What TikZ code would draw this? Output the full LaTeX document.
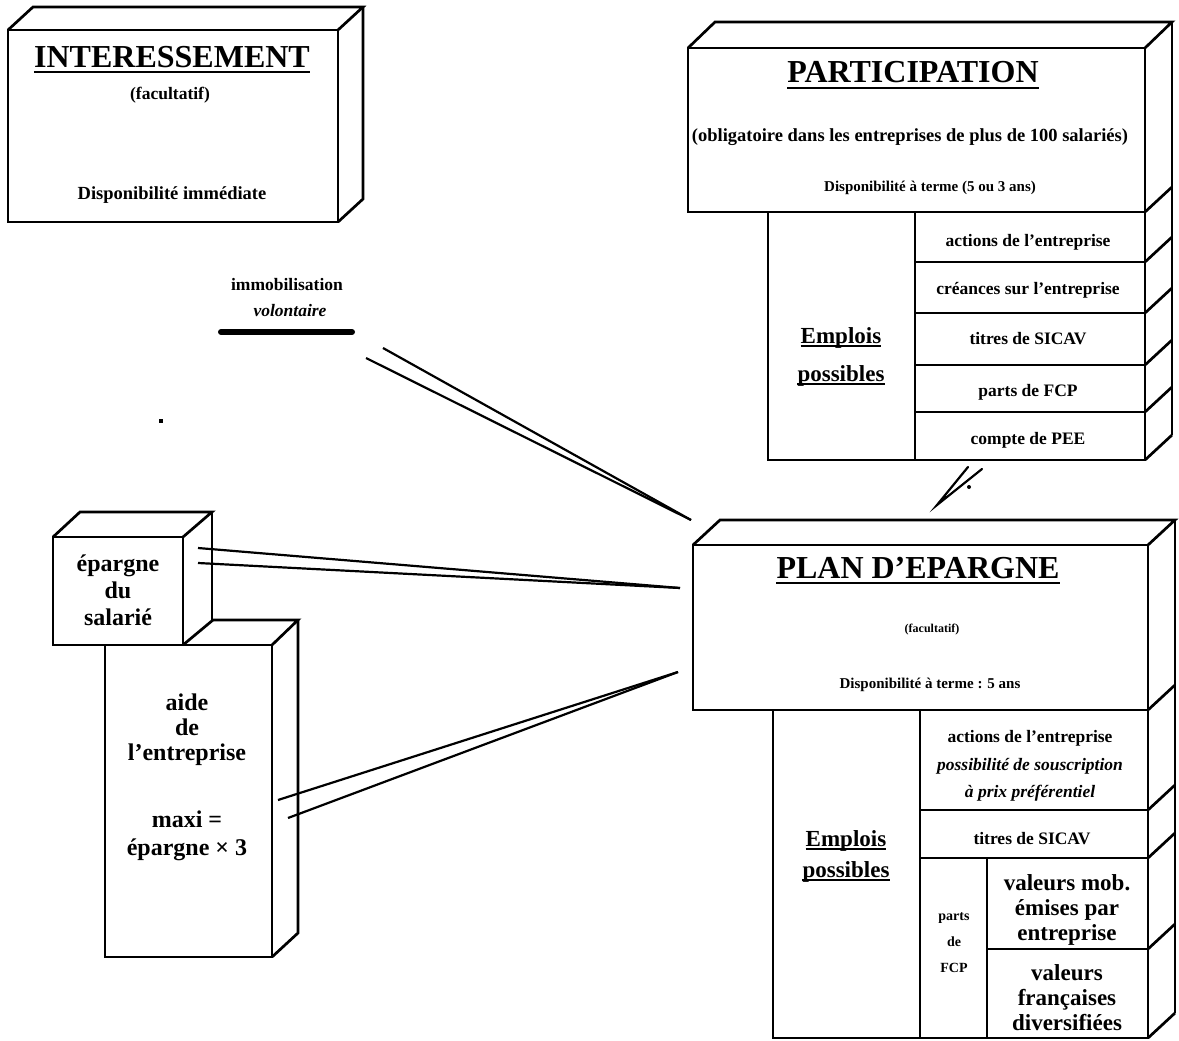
\documentclass[tikz,border=0pt]{standalone}
\usepackage{fontspec}
\setmainfont{Liberation Serif}
\begin{document}
\begin{tikzpicture}[x=1pt,y=-1pt,
  edge/.style={line width=2.7pt,line join=miter},
  conn/.style={line width=2.2pt},
  ulin/.style={line width=2.4pt},
  ttl/.style={font=\fontsize{32}{36}\selectfont\bfseries,inner sep=0pt},
  sm/.style={font=\fontsize{17.5}{20}\selectfont\bfseries,inner sep=0pt,align=center},
  smi/.style={font=\fontsize{17.5}{20}\selectfont\bfseries\itshape,inner sep=0pt,align=center},
  tiny/.style={font=\fontsize{12}{15}\selectfont\bfseries,inner sep=0pt,align=center},
  big/.style={font=\fontsize{23}{26}\selectfont\bfseries,inner sep=0pt,align=center},
  emp/.style={font=\fontsize{23}{26}\selectfont\bfseries,inner sep=0pt}
]
\path[use as bounding box] (0,0) rectangle (1179,1041);

% ---------- INTERESSEMENT ----------
\draw[edge] (8,30) rectangle (338,222);
\draw[edge] (8,30) -- (33,7) -- (363,7) -- (338,30);
\draw[edge] (363,7) -- (363,199) -- (338,222);
\node[ttl,anchor=base] (tI) at (172,68) {INTERESSEMENT};
\draw[ulin] ([yshift=-4pt]tI.base west) -- ([yshift=-4pt]tI.base east);
\node[sm] (fI) at (170,95) {(facultatif)};
\node[sm,font=\fontsize{18.5}{20}\selectfont\bfseries] (dI) at (172,195) {Disponibilité immédiate};

% ---------- PARTICIPATION ----------
\draw[edge] (688,48) rectangle (1145,212);
\draw[edge] (688,48) -- (715,22) -- (1172,22) -- (1145,48);
\draw[edge] (1172,22) -- (1172,435);
\foreach \yy in {212,262,313,365,412,460}{
  \draw[edge] (1145,\yy) -- (1172,\yy-25);
}
\node[ttl,anchor=base] (tP) at (913,83) {PARTICIPATION};
\draw[ulin] ([yshift=-5pt]tP.base west) -- ([yshift=-5pt]tP.base east);
\node[sm,font=\fontsize{18.5}{20}\selectfont\bfseries] (oP) at (910,137) {(obligatoire dans les entreprises de plus de 100 salariés)};
\node[sm,font=\fontsize{15}{18}\selectfont\bfseries] (dP) at (930,188) {Disponibilité à terme (5 ou 3 ans)};
% emplois participation
\draw[edge] (768,212) rectangle (1145,460);
\draw[edge] (915,212) -- (915,460);
\foreach \yy in {262,313,365,412}{
  \draw[edge] (915,\yy) -- (1145,\yy);
}
\node[emp,anchor=base] (eP1) at (841,343) {Emplois};
\draw[ulin] ([yshift=-3pt]eP1.base west) -- ([yshift=-3pt]eP1.base east);
\node[emp,anchor=base] (eP2) at (841,381) {possibles};
\draw[ulin] ([yshift=-3pt]eP2.base west) -- ([yshift=-3pt]eP2.base east);
\node[sm] (rP1) at (1028,242) {actions de l'entreprise};
\node[sm] (rP2) at (1028,290) {créances sur l'entreprise};
\node[sm] (rP3) at (1028,339) {titres de SICAV};
\node[sm] (rP4) at (1028,392) {parts de FCP};
\node[sm] (rP5) at (1028,440) {compte de PEE};

% ---------- PLAN D'EPARGNE ----------
\draw[edge] (693,545) rectangle (1148,710);
\draw[edge] (693,545) -- (720,520) -- (1175,520) -- (1148,545);
\draw[edge] (1175,520) -- (1175,1013);
\foreach \yy in {710,810,858,949,1038}{
  \draw[edge] (1148,\yy) -- (1175,\yy-25);
}
\node[ttl,anchor=base] (tE) at (918,578) {PLAN D'EPARGNE};
\draw[ulin] ([yshift=-5pt]tE.base west) -- ([yshift=-5pt]tE.base east);
\node[tiny] (fE) at (932,630) {(facultatif)};
\node[sm,font=\fontsize{15}{18}\selectfont\bfseries] (dE) at (930,685) {Disponibilité à terme : 5 ans};
% emplois plan
\draw[edge] (773,710) rectangle (1148,1038);
\draw[edge] (920,710) -- (920,1038);
\draw[edge] (920,810) -- (1148,810);
\draw[edge] (920,858) -- (1148,858);
\draw[edge] (987,858) -- (987,1038);
\draw[edge] (987,949) -- (1148,949);
\node[emp,anchor=base] (eE1) at (846,846) {Emplois};
\draw[ulin] ([yshift=-3pt]eE1.base west) -- ([yshift=-3pt]eE1.base east);
\node[emp,anchor=base] (eE2) at (846,877) {possibles};
\draw[ulin] ([yshift=-3pt]eE2.base west) -- ([yshift=-3pt]eE2.base east);
\node[sm] (rE1a) at (1030,738) {actions de l'entreprise};
\node[smi] (rE1b) at (1030,766) {possibilité de souscription};
\node[smi] (rE1c) at (1030,793) {à prix préférentiel};
\node[sm] (rE2) at (1032,839) {titres de SICAV};
\node[tiny,font=\fontsize{14}{26}\selectfont\bfseries] (rE3) at (954,943) {parts\\de\\FCP};
\node[big,font=\fontsize{23}{25}\selectfont\bfseries] (rE4) at (1067,910) {valeurs mob.\\émises par\\entreprise};
\node[big,font=\fontsize{23}{25}\selectfont\bfseries] (rE5) at (1067,998) {valeurs\\françaises\\diversifiées};

% ---------- epargne du salarie ----------
\draw[edge] (53,537) rectangle (183,645);
\draw[edge] (53,537) -- (80,512) -- (212,512) -- (183,537);
\draw[edge] (212,512) -- (212,620);
\node[big,font=\fontsize{24}{27}\selectfont\bfseries] (tS) at (118,590) {épargne\\du\\salarié};

% ---------- aide de l'entreprise ----------
\draw[edge] (105,645) rectangle (272,957);
\draw[edge] (183,645) -- (213,620) -- (298,620) -- (272,645);
\draw[edge] (298,620) -- (298,933) -- (272,957);
\node[big,font=\fontsize{24}{25}\selectfont\bfseries] (tA) at (187,730) {aide\\de\\l'entreprise};
\node[big,font=\fontsize{24}{28}\selectfont\bfseries] (tM) at (187,836) {maxi =\\épargne × 3};

% ---------- immobilisation volontaire ----------
\node[sm] (im1) at (287,285) {immobilisation};
\node[smi] (im2) at (290,311) {volontaire};
\coordinate (barL) at (221,332);
\coordinate (barR) at (352,332);
\draw[line width=6pt,line cap=round] (barL) -- (barR);
\fill (159,419) rectangle (163,423);

% ---------- connectors ----------
\coordinate (iA) at (383,348);
\coordinate (iB) at (366,358);
\coordinate (pI) at (691,520);
\draw[conn] (iA) -- (pI);
\draw[conn] (iB) -- (pI);
\coordinate (sA) at (198,548);
\coordinate (sB) at (198,563);
\coordinate (pS) at (680,588);
\draw[conn] (sA) -- (pS);
\draw[conn] (sB) -- (pS);
\coordinate (aA) at (278,800);
\coordinate (aB) at (288,818);
\coordinate (pA) at (678,672);
\draw[conn] (aA) -- (pA);
\draw[conn] (aB) -- (pA);
% participation -> plan mark
\coordinate (vT) at (937,505);
\coordinate (vA) at (968,467);
\coordinate (vB) at (982,469);
\draw[conn,line cap=round] (vA) -- (vT) -- (vB);
\fill (969,487) circle (2pt);
\end{tikzpicture}
\end{document}
